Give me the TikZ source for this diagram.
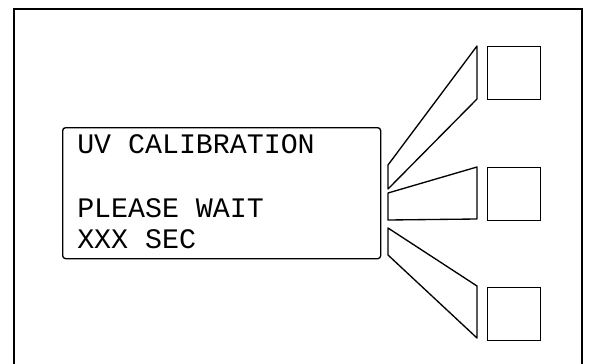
\documentclass[tikz,border=0pt]{standalone}
\usepackage{fontspec}
\setmonofont{Liberation Mono}
\tikzset{
  panel/.style={line width=1.8pt},
  lcd/.style={draw, rounded corners=2.25pt, line width=1pt, inner sep=0pt, anchor=north west},
  key/.style={draw, line width=1pt, inner sep=0pt, minimum size=39.75pt, anchor=north west},
  beam/.style={line width=1pt, line join=round},
  lcdtext/.style={anchor=base west, inner sep=0pt, font=\fontsize{21.2pt}{24pt}\ttfamily}
}
\begin{document}
\begin{tikzpicture}[x=0.75pt,y=0.75pt,yscale=-1,xscale=1]
\useasboundingbox (0,0) rectangle (589,364);

%Frame (open at the bottom)
\draw [panel] (14,364) -- (14,9) -- (582,9) -- (582,364);

%Display
\node [lcd, minimum width=238.5pt, minimum height=98.25pt] (lcd) at (62,127) {};

% Text Node
\node [lcdtext] (line1) at (77,153.5) {UV CALIBRATION};
% Text Node
\node [lcdtext] (line2) at (77,217) {PLEASE WAIT};
% Text Node
\node [lcdtext] (line3) at (77,248) {XXX SEC};

%Keys
\node [key] (keyA) at (487,46) {};
\node [key] (keyB) at (487,167) {};
\node [key] (keyC) at (487,287) {};

%Beams
\draw [beam] (388,165) -- (477,46) -- (477,99) -- (388,189) -- cycle ;
\draw [beam] (388,193) -- (477,167) -- (477,219) -- (388,220) -- cycle ;
\draw [beam] (388,228) -- (477,286) -- (477,338) -- (388,255) -- cycle ;

\end{tikzpicture}
\end{document}
